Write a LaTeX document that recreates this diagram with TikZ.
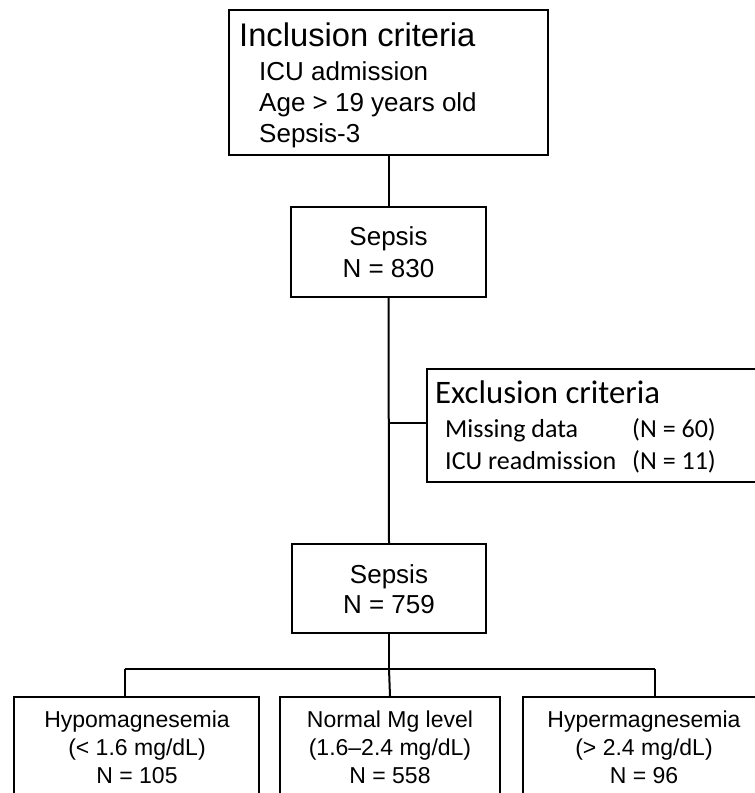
\documentclass[tikz,border=0pt]{standalone}
\usepackage{fontspec}
\setmainfont{Liberation Sans}
\newfontfamily\calib{Carlito}
\begin{document}
\begin{tikzpicture}[x=1pt,y=-1pt,
  box/.style={draw, line width=2.3pt, rectangle, inner sep=0pt},
  conn/.style={line width=2pt},
  txt/.style={inner sep=0pt},
  big/.style={font=\fontsize{32.7}{39}\selectfont},
  mid/.style={font=\fontsize{26}{31}\selectfont},
  cbig/.style={font=\calib\fontsize{32.8}{39}\selectfont},
  cmid/.style={font=\calib\fontsize{26}{31}\selectfont},
  small/.style={font=\fontsize{23}{28}\selectfont}]
\useasboundingbox (0,0) rectangle (755,793);
% boxes
\node[box, minimum width=319pt, minimum height=145pt] (inc) at (388.5,82.5) {};
\node[box, minimum width=195pt, minimum height=90pt] (s1) at (388.5,252) {};
\node[box, minimum width=333pt, minimum height=113pt] (exc) at (593.5,425.5) {};
\node[box, minimum width=194pt, minimum height=89pt] (s2) at (389,588.5) {};
\node[box, minimum width=245pt, minimum height=110pt] (b1) at (136.5,752) {};
\node[box, minimum width=220pt, minimum height=110pt] (b2) at (390,752) {};
\node[box, minimum width=242pt, minimum height=110pt] (b3) at (644,752) {};
% texts
\node[txt, big, anchor=base west] (inct) at (239,46) {Inclusion criteria};
\node[txt, mid, anchor=base west] (inc1) at (259,80) {ICU admission};
\node[txt, mid, anchor=base west] (inc2) at (259,111) {Age > 19 years old};
\node[txt, mid, anchor=base west] (inc3) at (259,142) {Sepsis-3};
\node[txt, mid, anchor=base] (s1a) at (388.5,245) {Sepsis};
\node[txt, mid, anchor=base] (s1b) at (388.5,277) {N = 830};
\node[txt, cbig, anchor=base west] (exct) at (435,403) {Exclusion criteria};
\node[txt, cmid, anchor=base west] (exc1) at (445,437) {Missing data};
\node[txt, cmid, anchor=base west] (exc2) at (445,469) {ICU readmission};
\node[txt, cmid, anchor=base west] (exc1n) at (632,437) {(N = 60)};
\node[txt, cmid, anchor=base west] (exc2n) at (632,469) {(N = 11)};
\node[txt, mid, anchor=base] (s2a) at (389,583) {Sepsis};
\node[txt, mid, anchor=base] (s2b) at (389,613) {N = 759};
\node[txt, small, anchor=base] (b1a) at (137,727) {Hypomagnesemia};
\node[txt, small, anchor=base] (b1b) at (137,755) {(< 1.6 mg/dL)};
\node[txt, small, anchor=base] (b1c) at (137,783) {N = 105};
\node[txt, small, anchor=base] (b2a) at (390,727) {Normal Mg level};
\node[txt, small, anchor=base] (b2b) at (390,755) {(1.6–2.4 mg/dL)};
\node[txt, small, anchor=base] (b2c) at (390,783) {N = 558};
\node[txt, small, anchor=base] (b3a) at (644,727) {Hypermagnesemia};
\node[txt, small, anchor=base] (b3b) at (644,755) {(> 2.4 mg/dL)};
\node[txt, small, anchor=base] (b3c) at (644,783) {N = 96};
% connectors
\coordinate (ej) at (388.5,423);
\coordinate (bj) at (389,669);
\coordinate (bl) at (125,669);
\coordinate (br) at (655,669);
\draw[conn] (inc.south) -- (s1.north);
\draw[conn] (s1.south) -- (s2.north);
\draw[conn] (ej) -- (ej -| exc.west);
\draw[conn] (s2.south) -- (bj);
\draw[conn] (bl) -- (br);
\draw[conn] (bl) -- (bl |- b1.north);
\draw[conn] (br) -- (br |- b3.north);
\draw[conn] (bj) -- (b2.north);
\end{tikzpicture}
\end{document}
